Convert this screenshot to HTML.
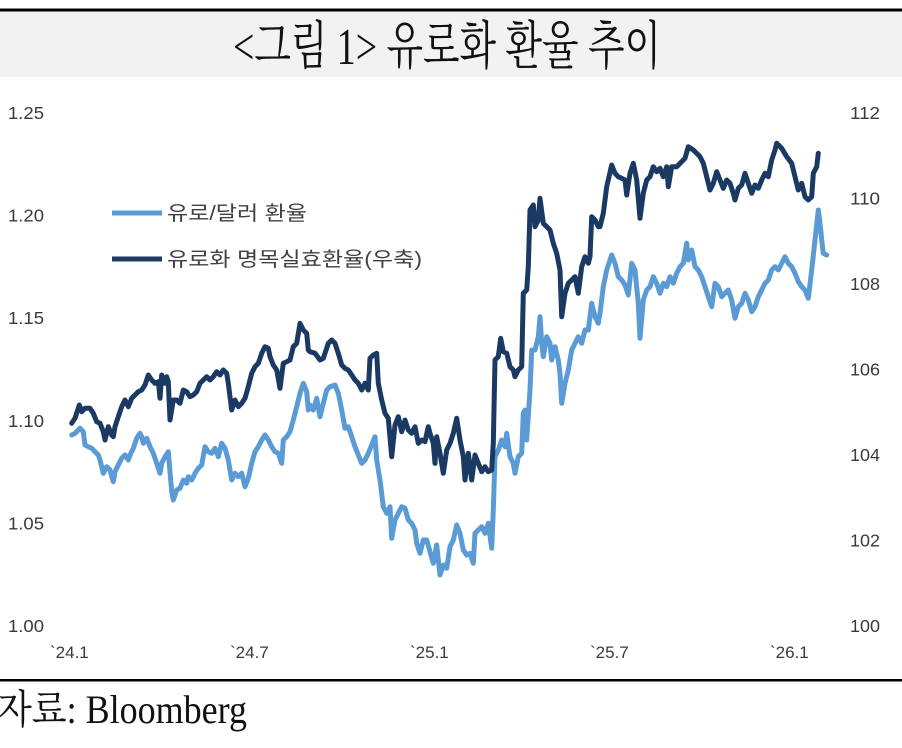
<!DOCTYPE html>
<html>
<head>
<meta charset="utf-8">
<style>
  html, body { margin:0; padding:0; background:#ffffff; }
  body { width:902px; height:748px; overflow:hidden; }
  svg { display:block; }
</style>
</head>
<body>
<svg width="902" height="748" viewBox="0 0 902 748" xmlns="http://www.w3.org/2000/svg">
  <rect x="0" y="0" width="902" height="748" fill="#ffffff"/>

  <!-- Title band -->
  <rect x="0" y="8.5" width="902" height="3" fill="#000000"/>
  <rect x="0" y="11.5" width="902" height="65" fill="#f2f2f2"/>
  <text x="233" y="64" font-family="'Liberation Serif','Noto Serif CJK SC',serif" font-size="52" fill="#111111" textLength="428" lengthAdjust="spacingAndGlyphs">&lt;그림 1&gt; 유로화 환율 추이</text>

  <!-- Left axis labels -->
  <g font-family="'Liberation Sans',sans-serif" font-size="17.5" fill="#3a3a3a" dominant-baseline="central">
    <text x="8" y="113" textLength="36" lengthAdjust="spacingAndGlyphs">1.25</text>
    <text x="8" y="215.6" textLength="36" lengthAdjust="spacingAndGlyphs">1.20</text>
    <text x="8" y="318.2" textLength="36" lengthAdjust="spacingAndGlyphs">1.15</text>
    <text x="8" y="420.8" textLength="36" lengthAdjust="spacingAndGlyphs">1.10</text>
    <text x="8" y="523.4" textLength="36" lengthAdjust="spacingAndGlyphs">1.05</text>
    <text x="8" y="626" textLength="36" lengthAdjust="spacingAndGlyphs">1.00</text>
  </g>
  <!-- Right axis labels -->
  <g font-family="'Liberation Sans',sans-serif" font-size="17.5" fill="#3a3a3a" dominant-baseline="central">
    <text x="850" y="113" textLength="30" lengthAdjust="spacingAndGlyphs">112</text>
    <text x="850" y="198.5" textLength="30" lengthAdjust="spacingAndGlyphs">110</text>
    <text x="850" y="284" textLength="30" lengthAdjust="spacingAndGlyphs">108</text>
    <text x="850" y="369.5" textLength="30" lengthAdjust="spacingAndGlyphs">106</text>
    <text x="850" y="455" textLength="30" lengthAdjust="spacingAndGlyphs">104</text>
    <text x="850" y="540.5" textLength="30" lengthAdjust="spacingAndGlyphs">102</text>
    <text x="850" y="626" textLength="30" lengthAdjust="spacingAndGlyphs">100</text>
  </g>
  <!-- X axis labels -->
  <g font-family="'Liberation Sans',sans-serif" font-size="17" fill="#3a3a3a">
    <text x="50" y="658">`24.1</text>
    <text x="230" y="658">`24.7</text>
    <text x="410" y="658">`25.1</text>
    <text x="590" y="658">`25.7</text>
    <text x="770" y="658">`26.1</text>
  </g>

  <!-- Legend -->
  <line x1="112" y1="213" x2="162" y2="213" stroke="#5b9bd5" stroke-width="5"/>
  <text x="167" y="220" font-family="'Liberation Sans','Noto Sans CJK KR',sans-serif" font-size="20" fill="#404040" textLength="140" lengthAdjust="spacingAndGlyphs">유로/달러 환율</text>
  <line x1="112" y1="259" x2="162" y2="259" stroke="#1b3a63" stroke-width="5"/>
  <text x="167" y="266" font-family="'Liberation Sans','Noto Sans CJK KR',sans-serif" font-size="20" fill="#404040" textLength="255" lengthAdjust="spacingAndGlyphs">유로화 명목실효환율(우축)</text>

  <!-- EUR/USD (light) -->
  <polyline fill="none" stroke="#5b9bd5" stroke-width="5" stroke-linejoin="round" stroke-linecap="round" points="
71.7,435 75,433.3 80,428.3 83.3,431.7 85,445 88.3,446.7 91.7,448.3 95,451.7 98.3,455 100,460 103.3,473.3 106.7,466.7 110,470 113.3,481.7 115,471.7 118.3,465 121.7,458.3 125,455 128.3,460 130,455 133.3,448.3 136.7,438.3 140,433.3 141.7,436.7 143.3,443.3 146.7,438.3 150,446.7 153.3,453.3 156.7,463.3 160,473.3 161.7,463.3 165,456.7 168.3,451.7 171.7,491.7 173.3,500 176.7,490 180,488.3 183.3,480 186.7,483.3 188.3,476.7 191.7,480 195,473.3 198.3,468.3 201.7,465 205,446.7 208.3,451.7 211.7,453.3 215,448.3 218.3,456.7 221.7,443.3 225,448.3 228.3,460 231.7,480 235,473.3 238.3,476.7 241.7,473.3 245,486.7 248.3,478.3 251.7,463.3 255,451.7 258.3,446.7 261.7,440 265,435 268.3,440 271.7,446.7 275,451.7 278.3,453.3 281.7,463.3 283.3,440 286.7,436.7 290,431.7 293.3,420 296.7,406.7 300,393.3 303.3,383.3 306.7,391.7 308.3,410
310,405 313.3,410 316.7,398.3 320,416.7 323.3,403.3 326.7,390 330,386.7 335,385 338.3,393.3 341.7,410 345,428.3 348.3,426.7 351.7,436.7 355,446.7 358.3,455 361.7,463.3 365,460 368.3,453.3 371.7,445 375,436.7 376.7,460 380,480 383.3,506.7 386.7,513.3 390,506.7 391.7,538.3 395,520 398.3,513.3 401.7,506.7 405,508.3 408.3,520 411.7,523.3 415,530 416.7,543.3 420,553.3 423.3,540 426.7,540 430,551.7 433.3,563.3 436.7,545 438.3,560 440,575 443.3,565 446.7,568.3 450,546.7 453.3,540 456.7,525 460,533.3 463.3,550 466.7,555 470,553.3 473.3,563.3 475,533.3 478.3,530 481.7,526.7 485,533.3 488.3,523.3 491.7,548.3
493.3,510 495,456.7 498.3,450 501.7,440 505,446.7 506.7,433.3 510,456.7 513.3,463.3 515,473.3 518.3,456.7 521.7,453.3 523.3,413.3 525,410 526.7,440 530,390 531.7,350 535,350 538.3,336.7 540,316.7 541.7,343.3 543.3,356.7 546.7,336.7 550,343.3 551.7,360 555,346.7 558.3,360 560,373.3 561.7,403.3 565,383.3 568.3,370 571.7,350 575,343.3 578.3,336.7 581.7,343.3 585,330 588.3,330 591.7,303.3 595,316.7 598.3,323.3
600,313.3 603.3,286.7 606.7,270 611.7,255 615,263.3 618.3,276.7 621.7,280 625,285 628.3,295 631.7,263.3 635,270 638.3,303.3 640,338.3 643.3,300 646.7,290 650,286.7 653.3,276.7 656.7,283.3 660,293.3 663.3,283.3 666.7,286.7 670,276.7 673.3,283.3 676.7,273.3 680,266.7 683.3,263.3 686.7,243.3 688.3,260 691.7,250 695,266.7 698.3,270 701.7,276.7 705,286.7 708.3,296.7 711.7,306.7 715,283.3 718.3,286.7 721.7,296.7 725,293.3 728.3,290 731.7,300 735,318.3 738.3,306.7 741.7,303.3 745,293.3 748.3,300 751.7,311.7 755,306.7 758.3,296.7 761.7,290 765,283.3 768.3,280 771.7,270 775,266.7 778.3,270 781.7,263.3 785,256.7 788.3,263.3 791.7,266.7 795,273.3 798.3,281.7 801.7,286.7 805,290 808.3,298.3 811.7,270 815,240 818.3,210 820,223.3 821.7,240 823.3,253.3 826.7,255"/>

  <!-- NEER (dark, right axis) -->
  <polyline fill="none" stroke="#1b3a63" stroke-width="5" stroke-linejoin="round" stroke-linecap="round" points="
71.7,423.3 75,418.3 79.3,405 81.7,411.7 85,408.3 90,408.3 93.3,413.3 96.7,421.7 100,423.3 103.3,431.7 105,440 108.3,426.7 111.7,435 113.3,436.7 115,426.7 118.3,416.7 121.7,406.7 125,400 128.3,406.7 131.7,398.3 135,395 138.3,391.7 141.7,390 145,385 148.3,375 151.7,380 155,383.3 158.3,381.7 160,398.3 161.7,375 165,383.3 166.7,376.7 168.3,381.7 170,420 173.3,400 176.7,400 180,403.3 183.3,390 186.7,391.7 190,396.7 193.3,395 196.7,391.7 200,383.3 203.3,380 206.7,376.7 210,380 213.3,376.7 216.7,371.7 220,375 223.3,370 226.7,373.3 228.3,383.3 230,396.7 231.7,410 235,400 238.3,406.7 241.7,403.3 245,398.3 248.3,386.7 251.7,373.3 255,366.7 258.3,363.3 261.7,353.3 265,346.7 268.3,348.3 270,356.7 273.3,365 276.7,370 280,388.3 283.3,363.3 286.7,361.7 290,360 293.3,346.7 296.7,343.3 300,323.3 303.3,330 306.7,333.3 308.3,350
310,351.7 315,353.3 320,360 323.3,358.3 328.3,343.3 331.7,340 335,343.3 338.3,353.3 341.7,365 345,368.3 348.3,370 351.7,375 355,380 358.3,383.3 361.7,390 365,383.3 368.3,390 370,358.3 373.3,355 376.7,353.3 378.3,383.3 381.7,400 385,413.3 388.3,418.3 391.7,456.7 395,425 398.3,416.7 401.7,431.7 405,420 408.3,430 411.7,433.3 415,426.7 418.3,443.3 421.7,440 425,441.7 428.3,426.7 430,433.3 433.3,443.3 435,463.3 436.7,436.7 440,453.3 443.3,473.3 446.7,450 450,443.3 453.3,433.3 456.7,418.3 460,440 463.3,456.7 465,480 468.3,453.3 471.7,480 475,455 478.3,463.3 481.7,471.7 485,466.7 488.3,471.7 491.7,470
493.3,443.3 495,360 498.3,356.7 500.7,338.3 503.3,351.7 506.7,353.3 510,366.7 513.3,370 515,376.7 518.3,370 521.7,366.7 523.3,293.3 526.7,290 528.3,266.7 530,210 533.3,205 535,226.7 538.3,220 540,198.3 543.3,223.3 546.7,226.7 550,230 553.3,243.3 556.7,253.3 560,270 561.7,316.7 565,293.3 568.3,283.3 571.7,280 575,276.7 578.3,293.3 581.7,266.7 585,256.7 588.3,263.3 590,256.7 591.7,216.7 595,220 598.3,226.7
600,226.7 603.3,213.3 606.7,186.7 611.7,165 615,173.3 618.3,176.7 621.7,178.3 625,180 626.7,195 630,173.3 633.3,163.3 636.7,180 640,218.3 643.3,193.3 646.7,180 650,176.7 653.3,166.7 656.7,171.7 660,168.3 663.3,176.7 666.7,166.7 668.3,186.7 671.7,166.7 676.7,166.7 681.7,161.7 685,158.3 688.3,146.7 693.3,150 696.7,153.3 700,156.7 703.3,163.3 706.7,176.7 710,190 713.3,183.3 716.7,171.7 720,180 723.3,188.3 726.7,180 730,183.3 733.3,193.3 735,200 738.3,188.3 741.7,185 745,173.3 748.3,183.3 751.7,193.3 755,185 758.3,188.3 761.7,180 765,173.3 768.3,176.7 771.7,160 775,150 776.7,143.3 781.7,148.3 786.7,156.7 791.7,163.3 795,176.7 798.3,190 801.7,183.3 805,196.7 808.3,200 811.7,196.7 813.3,173.3 816.7,166.7 818.3,153.3"/>

  <!-- Bottom rule and source -->
  <rect x="0" y="679" width="902" height="2.5" fill="#000000"/>
  <text x="-3" y="723" font-family="'Liberation Serif','Noto Serif CJK SC',serif" font-size="40" fill="#111111" textLength="250" lengthAdjust="spacingAndGlyphs">자료: Bloomberg</text>
</svg>
</body>
</html>
